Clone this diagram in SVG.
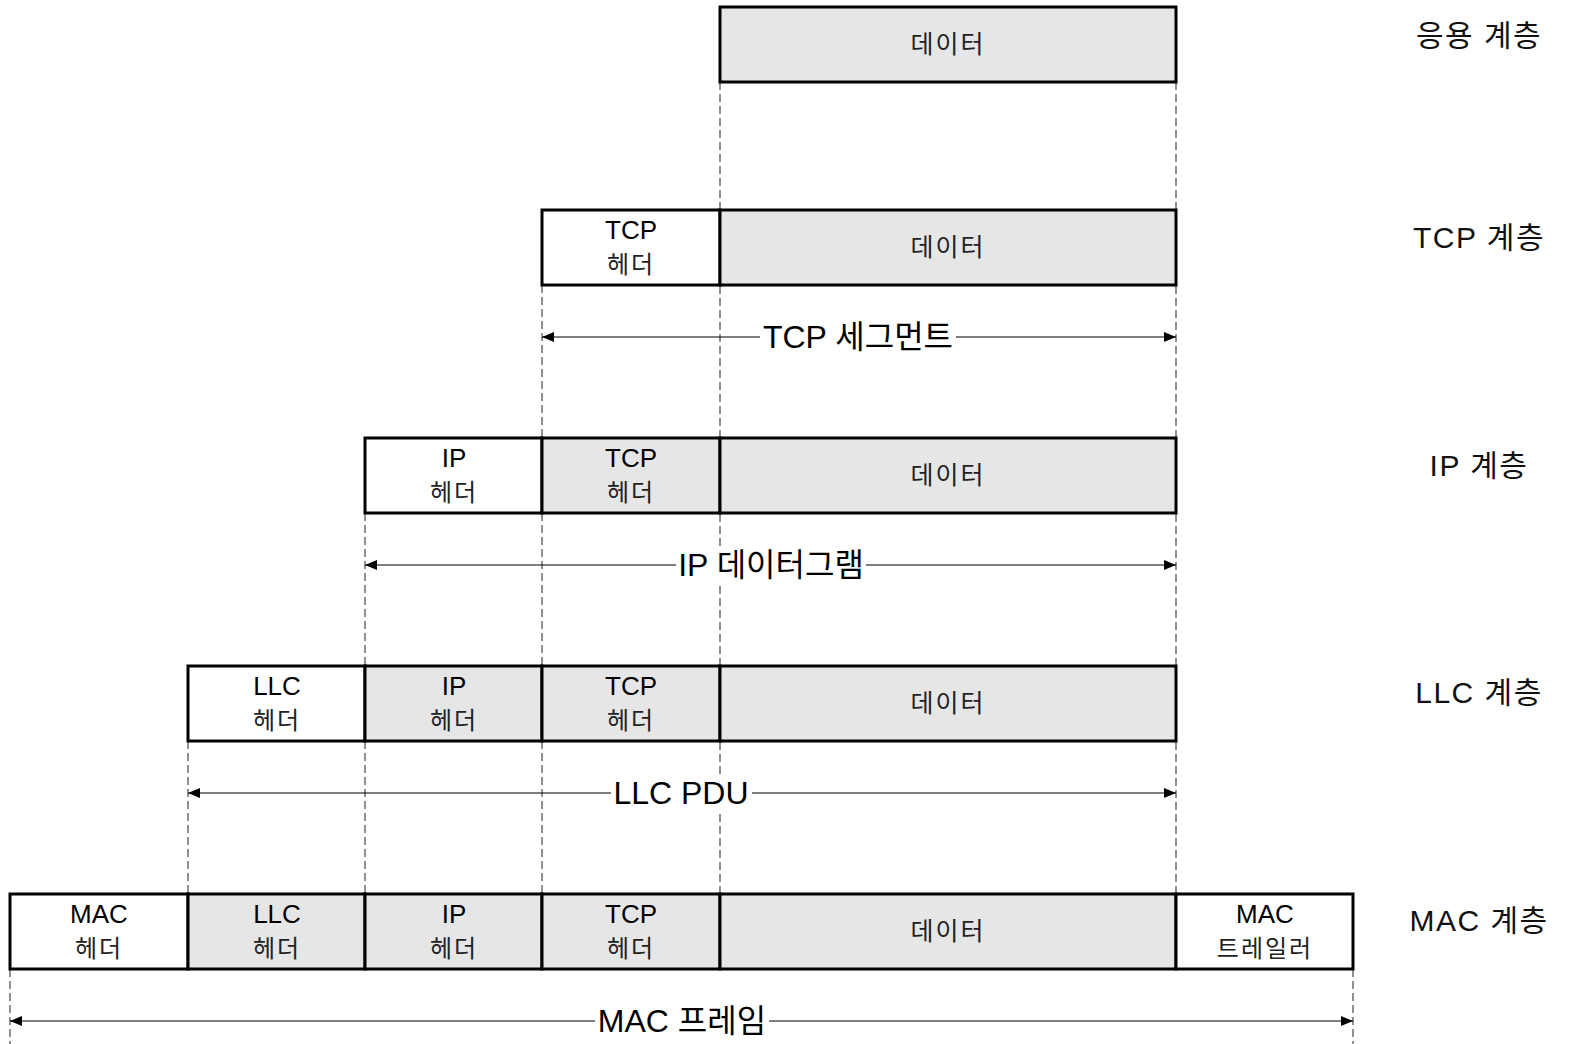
<svg xmlns="http://www.w3.org/2000/svg" width="1570" height="1044" viewBox="0 0 1570 1044">
<defs>
<style>
.box{stroke:#000;stroke-width:3;}
.w{fill:#fff;}
.g{fill:#e6e6e6;}
.dash{stroke:#222;stroke-width:1;stroke-dasharray:8,4;fill:none;}
.seg{stroke:#000;stroke-width:1.2;fill:none;}
.bg{fill:#fff;}
text{font-family:"Liberation Sans","Noto Sans CJK KR",sans-serif;fill:#000;text-anchor:middle;}
.t1{font-size:26px;}
.t2{font-size:24px;fill:#222;letter-spacing:2px;}
.d{font-size:25px;fill:#222;letter-spacing:2px;}
.lab{font-size:32px;}
.side{font-size:30px;fill:#111;letter-spacing:1.5px;}
</style>
<marker id="ah" viewBox="0 0 12 10" refX="12" refY="5" markerWidth="12" markerHeight="10" markerUnits="userSpaceOnUse" orient="auto-start-reverse">
<path d="M0,0 L12,5 L0,10 z" fill="#000"/>
</marker>
</defs>
<rect width="1570" height="1044" fill="#fff"/>
<g id="connectors">
<line class="dash" x1="720" y1="82" x2="720" y2="894"/>
<line class="dash" x1="1176" y1="82" x2="1176" y2="894"/>
<line class="dash" x1="542" y1="285" x2="542" y2="894"/>
<line class="dash" x1="365" y1="513" x2="365" y2="894"/>
<line class="dash" x1="188" y1="741" x2="188" y2="894"/>
<line class="dash" x1="10" y1="969" x2="10" y2="1044"/>
<line class="dash" x1="1353" y1="969" x2="1353" y2="1044"/>
<path class="seg" d="M542,337 H760" marker-start="url(#ah)"/>
<path class="seg" d="M956,337 H1176" marker-end="url(#ah)"/>
<path class="seg" d="M365,565 H676" marker-start="url(#ah)"/>
<path class="seg" d="M866,565 H1176" marker-end="url(#ah)"/>
<path class="seg" d="M188,793 H611" marker-start="url(#ah)"/>
<path class="seg" d="M752,793 H1176" marker-end="url(#ah)"/>
<path class="seg" d="M10,1021 H595" marker-start="url(#ah)"/>
<path class="seg" d="M769,1021 H1353" marker-end="url(#ah)"/>
</g>
<g id="row-app">
<rect class="box g" x="720" y="7" width="456" height="75"/>
<text class="d" x="948" y="53">데이터</text>
</g>
<g id="row-tcp">
<rect class="box w" x="542" y="210" width="178" height="75"/>
<text class="t1" x="631" y="239">TCP</text>
<text class="t2" x="631" y="273">헤더</text>
<rect class="box g" x="720" y="210" width="456" height="75"/>
<text class="d" x="948" y="256">데이터</text>
</g>
<g id="label-tcp-seg">
<rect class="bg" x="760" y="318" width="196" height="38"/>
<text class="lab" x="858" y="348">TCP 세그먼트</text>
</g>
<g id="row-ip">
<rect class="box w" x="365" y="438" width="177" height="75"/>
<text class="t1" x="454" y="467">IP</text>
<text class="t2" x="454" y="501">헤더</text>
<rect class="box g" x="542" y="438" width="178" height="75"/>
<text class="t1" x="631" y="467">TCP</text>
<text class="t2" x="631" y="501">헤더</text>
<rect class="box g" x="720" y="438" width="456" height="75"/>
<text class="d" x="948" y="484">데이터</text>
</g>
<g id="label-ip-dg">
<rect class="bg" x="676" y="546" width="190" height="38"/>
<text class="lab" x="771" y="576">IP 데이터그램</text>
</g>
<g id="row-llc">
<rect class="box w" x="188" y="666" width="177" height="75"/>
<text class="t1" x="277" y="695">LLC</text>
<text class="t2" x="277" y="729">헤더</text>
<rect class="box g" x="365" y="666" width="177" height="75"/>
<text class="t1" x="454" y="695">IP</text>
<text class="t2" x="454" y="729">헤더</text>
<rect class="box g" x="542" y="666" width="178" height="75"/>
<text class="t1" x="631" y="695">TCP</text>
<text class="t2" x="631" y="729">헤더</text>
<rect class="box g" x="720" y="666" width="456" height="75"/>
<text class="d" x="948" y="712">데이터</text>
</g>
<g id="label-llc-pdu">
<rect class="bg" x="611" y="774" width="141" height="38"/>
<text class="lab" x="681" y="804">LLC PDU</text>
</g>
<g id="row-mac">
<rect class="box w" x="10" y="894" width="178" height="75"/>
<text class="t1" x="99" y="923">MAC</text>
<text class="t2" x="99" y="957">헤더</text>
<rect class="box g" x="188" y="894" width="177" height="75"/>
<text class="t1" x="277" y="923">LLC</text>
<text class="t2" x="277" y="957">헤더</text>
<rect class="box g" x="365" y="894" width="177" height="75"/>
<text class="t1" x="454" y="923">IP</text>
<text class="t2" x="454" y="957">헤더</text>
<rect class="box g" x="542" y="894" width="178" height="75"/>
<text class="t1" x="631" y="923">TCP</text>
<text class="t2" x="631" y="957">헤더</text>
<rect class="box g" x="720" y="894" width="456" height="75"/>
<text class="d" x="948" y="940">데이터</text>
<rect class="box w" x="1176" y="894" width="177" height="75"/>
<text class="t1" x="1265" y="923">MAC</text>
<text class="t2" x="1265" y="957">트레일러</text>
</g>
<g id="label-mac-frame">
<rect class="bg" x="595" y="1002" width="174" height="38"/>
<text class="lab" x="682" y="1032">MAC 프레임</text>
</g>
<g id="side-labels">
<text class="side" x="1479" y="46">응용 계층</text>
<text class="side" x="1479" y="248">TCP 계층</text>
<text class="side" x="1479" y="476">IP 계층</text>
<text class="side" x="1479" y="703">LLC 계층</text>
<text class="side" x="1479" y="931">MAC 계층</text>
</g>
</svg>
